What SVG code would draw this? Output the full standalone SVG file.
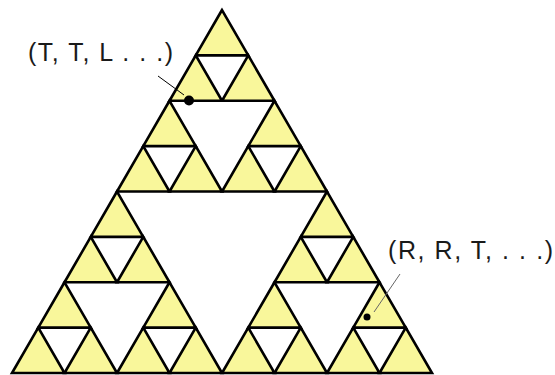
<svg xmlns="http://www.w3.org/2000/svg" xmlns:xlink="http://www.w3.org/1999/xlink" width="555" height="375" viewBox="0 0 555 375">
<style>
.tri{fill:#f9f79b;stroke:#000;stroke-width:2.6;stroke-linejoin:miter}
.lbl{font-family:"Liberation Sans",Arial,sans-serif;font-size:25px;fill:#1a1a1a}
</style>
<defs>
<polygon id="t" points="0,0 -26.25,45.375 26.25,45.375"/>
</defs>
<rect width="555" height="375" fill="#fff"/>
<g id="sierpinski" class="tri">
<use xlink:href="#t" x="222" y="10"/>
<use xlink:href="#t" x="195.75" y="55.375"/>
<use xlink:href="#t" x="248.25" y="55.375"/>
<use xlink:href="#t" x="169.5" y="100.75"/>
<use xlink:href="#t" x="274.5" y="100.75"/>
<use xlink:href="#t" x="143.25" y="146.125"/>
<use xlink:href="#t" x="195.75" y="146.125"/>
<use xlink:href="#t" x="248.25" y="146.125"/>
<use xlink:href="#t" x="300.75" y="146.125"/>
<use xlink:href="#t" x="117" y="191.5"/>
<use xlink:href="#t" x="327" y="191.5"/>
<use xlink:href="#t" x="90.75" y="236.875"/>
<use xlink:href="#t" x="143.25" y="236.875"/>
<use xlink:href="#t" x="300.75" y="236.875"/>
<use xlink:href="#t" x="353.25" y="236.875"/>
<use xlink:href="#t" x="64.5" y="282.25"/>
<use xlink:href="#t" x="169.5" y="282.25"/>
<use xlink:href="#t" x="274.5" y="282.25"/>
<use xlink:href="#t" x="379.5" y="282.25"/>
<use xlink:href="#t" x="38.25" y="327.625"/>
<use xlink:href="#t" x="90.75" y="327.625"/>
<use xlink:href="#t" x="143.25" y="327.625"/>
<use xlink:href="#t" x="195.75" y="327.625"/>
<use xlink:href="#t" x="248.25" y="327.625"/>
<use xlink:href="#t" x="300.75" y="327.625"/>
<use xlink:href="#t" x="353.25" y="327.625"/>
<use xlink:href="#t" x="405.75" y="327.625"/>
</g>
<g id="connectors">
<line x1="158" y1="76" x2="184" y2="95" stroke="#000" stroke-width="1"/>
<line x1="400" y1="274" x2="374" y2="312" stroke="#666" stroke-width="1"/>
</g>
<g id="label-TTL">
<circle cx="189" cy="100.5" r="5" fill="#000"/>
<text class="lbl" x="28" y="61" textLength="145" lengthAdjust="spacing">(T, T, L . . .)</text>
</g>
<g id="label-RRT">
<circle cx="367" cy="317" r="3.5" fill="#000"/>
<text class="lbl" x="388" y="259" textLength="165" lengthAdjust="spacing">(R, R, T, . . .)</text>
</g>
</svg>
